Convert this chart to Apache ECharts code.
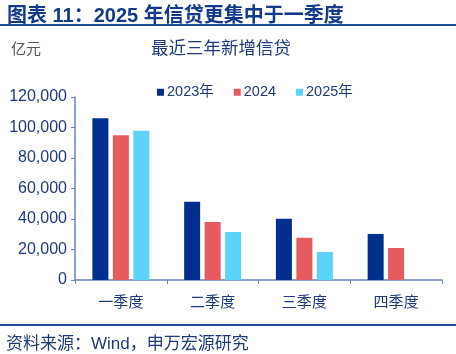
<!DOCTYPE html>
<html>
<head>
<meta charset="utf-8">
<script src="https://cdn.jsdelivr.net/npm/echarts@6/dist/echarts.min.js"></script>
<style>
  html, body { margin: 0; padding: 0; background: #fff; }
  #chart { width: 456px; height: 354px; }
</style>
</head>
<body>
<div id="chart"></div>
<script>
// quarters and new credit (亿元) per year
const quarters = ["一季度", "二季度", "三季度", "四季度"];
const years = ["2023年", "2024", "2025年"];
const credit2023 = [106000, 51300, 40200, 30200];
const credit2024 = [94900, 38000, 27700, 21000];
const credit2025 = [97900, 31500, 18400, null];
const yTicks = { min: 0, max: 120000, interval: 20000 };

const colors = ["#002F8E", "#E65B5E", "#5CD3FB"];
const navy = "#1F3A7A";
const font = "'Liberation Sans', 'Noto Sans CJK SC', sans-serif";

const chart = echarts.init(document.getElementById("chart"));

const makeSeries = (name, values) => ({
  name: name,
  type: "bar",
  data: values,
  barWidth: 16,
  barGap: "28%",
});

chart.setOption({
  animation: false,
  color: colors,
  textStyle: { fontFamily: font },
  title: [
    {
      text: "图表 11：2025 年信贷更集中于一季度",
      left: 2,
      top: 1,
      textStyle: { fontSize: 20, fontWeight: "bold", color: "#143A8C", fontFamily: font },
    },
    {
      text: "亿元",
      left: 6,
      top: 37,
      textStyle: { fontSize: 15, fontWeight: "normal", color: "#555", fontFamily: font },
    },
    {
      text: "最近三年新增信贷",
      left: 146,
      top: 35,
      textStyle: { fontSize: 17.5, fontWeight: "normal", color: navy, fontFamily: font },
    },
    {
      text: "资料来源：Wind，申万宏源研究",
      left: 1,
      top: 331,
      textStyle: { fontSize: 17, fontWeight: "normal", color: navy, fontFamily: font },
    },
  ],
  graphic: [
    { type: "rect", shape: { x: 0, y: 24, width: 456, height: 2 }, style: { fill: "#1F4E9C" } },
    { type: "rect", shape: { x: 0, y: 324, width: 456, height: 2 }, style: { fill: "#1F4E9C" } },
  ],
  legend: {
    data: years,
    left: 152,
    top: 80,
    itemWidth: 7,
    itemHeight: 7,
    itemGap: 20,
    icon: "rect",
    textStyle: { fontSize: 14.5, color: navy, padding: [0, 0, 0, -2] },
  },
  grid: { left: 75, right: 14, top: 97, bottom: 74 },
  xAxis: {
    type: "category",
    data: quarters,
    axisLine: { lineStyle: { color: "#6A86BE", width: 1.5 } },
    axisTick: { show: true, length: 4, lineStyle: { color: "#6A86BE" } },
    axisLabel: { fontSize: 15, color: navy, margin: 15 },
  },
  yAxis: {
    type: "value",
    min: yTicks.min,
    max: yTicks.max,
    interval: yTicks.interval,
    splitLine: { show: false },
    axisLine: { show: true, lineStyle: { color: "#6A86BE", width: 1.5 } },
    axisTick: { show: true, length: 4, lineStyle: { color: "#6A86BE" } },
    axisLabel: {
      fontSize: 16,
      color: navy,
      margin: 8,
      formatter: (v) => v.toLocaleString("en-US"),
    },
  },
  series: [
    makeSeries(years[0], credit2023),
    makeSeries(years[1], credit2024),
    makeSeries(years[2], credit2025),
  ],
});
</script>
</body>
</html>
